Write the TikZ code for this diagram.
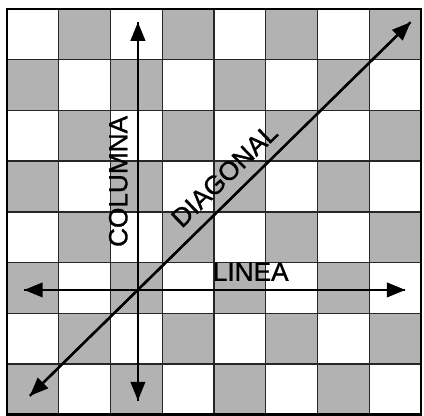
\documentclass[tikz,border=0pt]{standalone}
\usepackage{fontspec}
\setmainfont{Liberation Sans}[FakeBold=1.2]
\usetikzlibrary{arrows.meta}
\begin{document}
\begin{tikzpicture}[
  x=1cm, y=0.98cm,
  dark/.style={fill=black!30},
  grid/.style={line width=0.8pt, black!85},
  ar/.style={line width=1.3pt, -{Triangle[length=3.6mm, width=2.8mm]}},
  lab/.style={font=\fontsize{14.4}{16}\selectfont, inner sep=0pt},
]
\useasboundingbox (-0.135,-0.02) rectangle (8.058,8.177);

% dark squares
\foreach \i in {0,...,7}
  \foreach \j in {0,...,7} {
    \pgfmathparse{int(mod(\i+\j,2))}
    \ifnum\pgfmathresult=0
      \fill[dark] (\i,\j) rectangle ++(1,1);
    \fi
  }
\foreach \k in {1,...,7} {
  \draw[grid] (\k,0) -- (\k,8);
  \draw[grid] (0,\k) -- (8,\k);
}
\draw[line width=1.6pt] (0,0) rectangle (8,8);

% arrow ends
\coordinate (ctop) at (2.53,7.74);
\coordinate (cbot) at (2.53,0.28);
\coordinate (lleft) at (0.33,2.46);
\coordinate (lright) at (7.7,2.46);
\coordinate (dlow) at (0.44,0.37);
\coordinate (dhigh) at (7.8,7.74);

\draw[ar] (cbot) -- (ctop);
\draw[ar] (ctop) -- (cbot);
\draw[ar] (lright) -- (lleft);
\draw[ar] (lleft) -- (lright);
\draw[ar] (dhigh) -- (dlow);
\draw[ar] (dlow) -- (dhigh);

\node[lab, rotate=90] (col) at (2.15,4.6) {COLUMNA};
\node[lab, anchor=base] (lin) at (4.71,2.64) {LINEA};
\node[lab, rotate=44] (dia) at (4.2,4.72) {DIAGONAL};
\end{tikzpicture}
\end{document}
